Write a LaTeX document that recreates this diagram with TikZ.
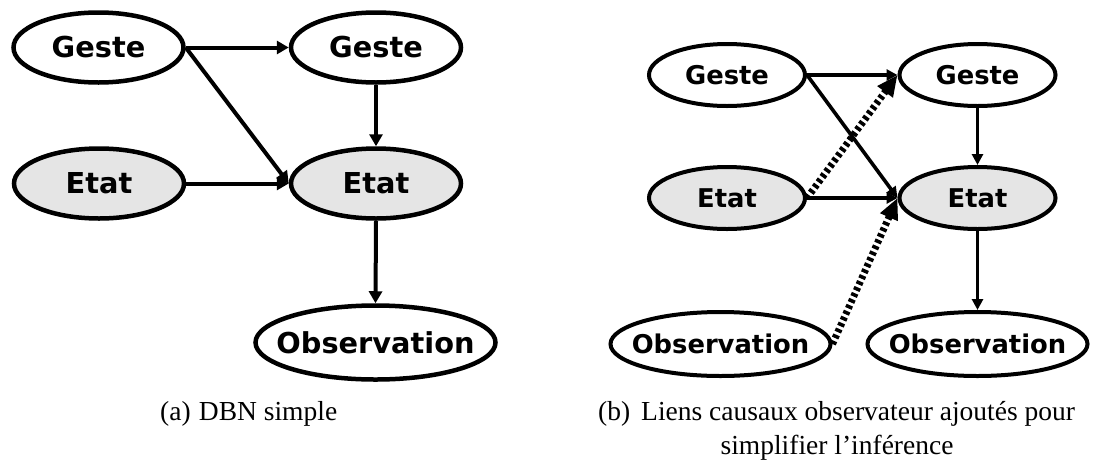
\documentclass[tikz,border=0pt]{standalone}
\usepackage{fontspec}
\setmainfont{Liberation Serif}
\newfontfamily\dvfont{DejaVu Sans}
\usetikzlibrary{arrows.meta,shapes.geometric}
\definecolor{etatfill}{RGB}{229,229,229}
\newcommand\zerow[1]{\makebox[0pt]{#1}}
\tikzset{
  nodeA/.style={ellipse, draw, line width=4.5pt, inner sep=0pt, minimum width=170pt, minimum height=70pt, font=\dvfont\bfseries\fontsize{28.8}{31}\selectfont},
  nodeB/.style={ellipse, draw, line width=4pt, inner sep=0pt, minimum width=156pt, minimum height=62pt, font=\dvfont\bfseries\fontsize{25.8}{28}\selectfont},
  obsA/.style={nodeA, minimum width=240pt, minimum height=74pt},
  obsB/.style={nodeB, minimum width=220pt, minimum height=64pt},
  etatA/.style={nodeA, fill=etatfill},
  etatB/.style={nodeB, fill=etatfill},
  arrA/.style={line width=4pt, -{Triangle[length=12pt,width=13pt]}},
  arrB/.style={line width=3.6pt, -{Triangle[length=11pt,width=11pt]}},
  arrD/.style={line width=7pt, dash pattern=on 3.5pt off 3pt, -{Triangle[length=21pt,width=18pt]}},
  capt/.style={font=\fontsize{27.5}{34}\selectfont, inner sep=0pt, anchor=base}
}
\begin{document}
\begin{tikzpicture}[x=1pt,y=-1pt]
\useasboundingbox (0,0) rectangle (1110,461);
% panel (a)
\node[nodeA] (g1) at (98.5,47.5) {\zerow{Geste}};
\node[nodeA] (g2) at (376,47.5) {\zerow{Geste}};
\node[etatA] (e1) at (99,183.5) {\zerow{Etat}};
\node[etatA] (e2) at (376,183.5) {\zerow{Etat}};
\node[obsA] (o2) at (375.5,342.5) {\zerow{Observation}};
\draw[arrA] (g1.east) -- (g2.west);
\draw[arrA] (g1.east) -- (e2.west);
\draw[arrA] (e1.east) -- (e2.west);
\draw[arrA] (g2.south) -- (e2.north);
\draw[arrA] (e2.south) -- (o2.north);
% panel (b)
\node[nodeB] (g3) at (727,75) {\zerow{Geste}};
\node[nodeB] (g4) at (977.5,75) {\zerow{Geste}};
\node[etatB] (e3) at (727,198) {\zerow{Etat}};
\node[etatB] (e4) at (977.5,198) {\zerow{Etat}};
\node[obsB] (o3) at (720.5,344) {\zerow{Observation}};
\node[obsB] (o4) at (977.5,344) {\zerow{Observation}};
\draw[arrB] (g3.east) -- (g4.west);
\draw[arrB] (g3.east) -- (e4.west);
\draw[arrB] (e3.east) -- (e4.west);
\draw[arrB] (g4.south) -- (e4.north);
\draw[arrB] (e4.south) -- (o4.north);
\draw[arrD] (e3.east) -- (g4.west);
\draw[arrD] (o3.east) -- (e4.west);
% captions
\node[capt, anchor=base west] (ca) at (160,420) {(a)\hspace{0.3em}DBN simple};
\node[capt, anchor=base west] (cb1) at (598,420) {(b)\hspace{0.4em}Liens causaux observateur ajoutés pour};
\node[capt] (cb2) at (837,454) {simplifier l’inférence};
\end{tikzpicture}
\end{document}
